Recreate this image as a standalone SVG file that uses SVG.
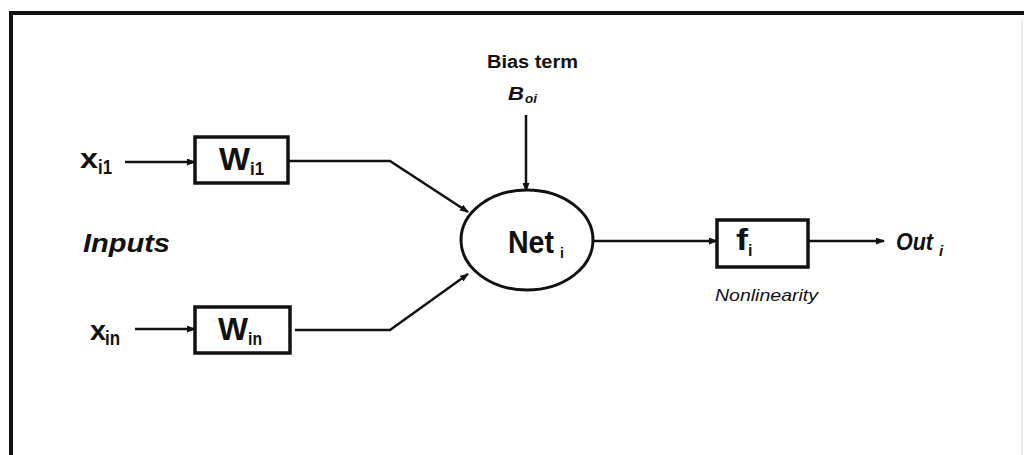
<svg xmlns="http://www.w3.org/2000/svg" width="1024" height="455" viewBox="0 0 1024 455">
<defs>
<style>
.t{font-family:"Liberation Sans",Arial,sans-serif;fill:#111}
.b{font-weight:bold}
.i{font-style:italic}
.ln{stroke:#111;stroke-width:2.5;fill:none}
.bx{stroke:#111;stroke-width:3.5;fill:#fff}
</style>
<marker id="ah" markerWidth="9" markerHeight="7" refX="8" refY="3.5" orient="auto" markerUnits="userSpaceOnUse">
<path d="M0,0 L9,3.5 L0,7 Z" fill="#111"/>
</marker>
</defs>
<rect width="1024" height="455" fill="#fff"/>
<path d="M11,460 L11,13 L1030,13" stroke="#111" stroke-width="4" fill="none"/>
<line x1="1022" y1="20" x2="1022" y2="455" stroke="#ddd" stroke-width="1"/>
<g id="connectors">
<line class="ln" x1="125" y1="162" x2="195" y2="162" marker-end="url(#ah)"/>
<polyline class="ln" points="288,161 390,161 468,212" marker-end="url(#ah)"/>
<line class="ln" x1="135" y1="329" x2="195" y2="329" marker-end="url(#ah)"/>
<polyline class="ln" points="295,330 390,330 468,274" marker-end="url(#ah)"/>
<line class="ln" x1="526" y1="115" x2="526" y2="191" marker-end="url(#ah)"/>
<line class="ln" x1="593" y1="241" x2="717" y2="241" marker-end="url(#ah)"/>
<line class="ln" x1="808" y1="241" x2="884" y2="241" marker-end="url(#ah)"/>
</g>
<g id="in1">
<text class="t b" x="80" y="168" font-size="27" textLength="18" lengthAdjust="spacingAndGlyphs">x</text>
<text class="t b" x="98" y="174" font-size="20" textLength="14" lengthAdjust="spacingAndGlyphs">i1</text>
</g>
<g id="in2">
<text class="t b" x="90" y="340" font-size="27" textLength="16" lengthAdjust="spacingAndGlyphs">x</text>
<text class="t b" x="105" y="345" font-size="20" textLength="15" lengthAdjust="spacingAndGlyphs">in</text>
</g>
<g id="w1">
<rect class="bx" x="195" y="137" width="93" height="46"/>
<text class="t b" x="219" y="170" font-size="31" textLength="31" lengthAdjust="spacingAndGlyphs">W</text>
<text class="t b" x="250" y="175" font-size="18" textLength="14" lengthAdjust="spacingAndGlyphs">i1</text>
</g>
<g id="wn">
<rect class="bx" x="195" y="307" width="95" height="46"/>
<text class="t b" x="218" y="340" font-size="31" textLength="30" lengthAdjust="spacingAndGlyphs">W</text>
<text class="t b" x="248" y="345" font-size="18" textLength="14" lengthAdjust="spacingAndGlyphs">in</text>
</g>
<g id="inputs">
<text class="t b i" x="83" y="252" font-size="25" textLength="87" lengthAdjust="spacingAndGlyphs">Inputs</text>
</g>
<g id="bias">
<text class="t b" x="487" y="68" font-size="18" textLength="91" lengthAdjust="spacingAndGlyphs">Bias term</text>
<text class="t b i" x="508" y="100" font-size="18" textLength="16" lengthAdjust="spacingAndGlyphs">B</text>
<text class="t b i" x="525" y="103" font-size="12" textLength="12" lengthAdjust="spacingAndGlyphs">oi</text>
</g>
<g id="net">
<ellipse cx="527" cy="240" rx="66" ry="50" fill="#fff" stroke="#111" stroke-width="3"/>
<text class="t b" x="508" y="253" font-size="31" textLength="46" lengthAdjust="spacingAndGlyphs">Net</text>
<text class="t b" x="560" y="258" font-size="14">i</text>
</g>
<g id="f">
<rect class="bx" x="717" y="220" width="91" height="47"/>
<text class="t b" x="736" y="250" font-size="30" textLength="12" lengthAdjust="spacingAndGlyphs">f</text>
<text class="t b" x="748" y="256" font-size="16">i</text>
</g>
<g id="nonlin">
<text class="t i" x="715" y="301" font-size="17" textLength="103" lengthAdjust="spacingAndGlyphs">Nonlinearity</text>
</g>
<g id="out">
<text class="t b i" x="896" y="250" font-size="24" textLength="37" lengthAdjust="spacingAndGlyphs">Out</text>
<text class="t b i" x="939" y="256" font-size="15">i</text>
</g>
</svg>
